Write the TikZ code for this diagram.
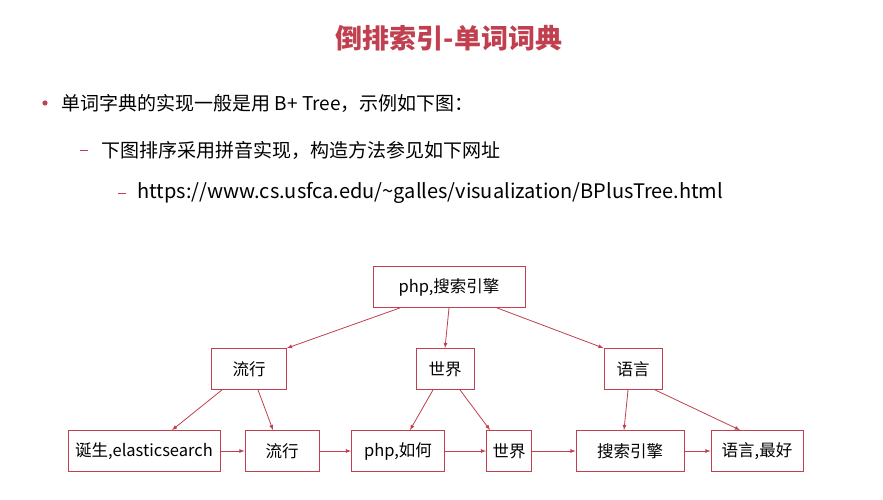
\documentclass[tikz,border=0pt]{standalone}
\usepackage{fontspec}
\setmainfont{Noto Sans CJK SC}
\definecolor{dictred}{HTML}{C0404F}
\begin{document}
\begin{tikzpicture}[x=1pt,y=-1pt,
    word/.style={draw=dictred, fill=white, thick, minimum height=41pt, inner sep=0pt, font=\fontsize{16.5}{19}\selectfont},
    link/.style={->, >=latex, dictred, thick},
    line/.style={anchor=west, font=\fontsize{19}{22}\selectfont}]
    \useasboundingbox[fill=white] (0,0) rectangle (883,500);

    \node[font=\fontsize{27}{31}\selectfont\bfseries, text=dictred] (title) at (449,38) {倒排索引-单词词典};
    \fill[dictred] (45,103) circle (2.6pt);
    \node[line] (item1) at (58,103) {单词字典的实现一般是用 B+ Tree，示例如下图：};
    \draw[dictred, thick] (80,150) -- (88,150);
    \node[line] (item2) at (98,150) {下图排序采用拼音实现，构造方法参见如下网址};
    \draw[dictred, thick] (118,193) -- (126,193);
    \node[line, font=\fontsize{20}{23}\selectfont] (item3) at (134,193) {https://www.cs.usfca.edu/\textasciitilde galles/visualization/BPlusTree.html};

    % root and inner nodes
    \node[word, minimum width=152pt] (root) at (449,287) {php,搜索引擎};
    \node[word, minimum width=75pt] (liuxing) at (249,369) {流行};
    \node[word, minimum width=58pt] (shijie) at (445,369) {世界};
    \node[word, minimum width=58pt] (yuyan) at (633,369) {语言};

    % leaves
    \node[word, minimum width=152pt] (l1) at (144,451) {诞生,elasticsearch};
    \node[word, minimum width=74pt] (l2) at (282,451) {流行};
    \node[word, minimum width=93pt] (l3) at (398,451) {php,如何};
    \node[word, minimum width=45pt] (l4) at (509,451) {世界};
    \node[word, minimum width=108pt] (l5) at (630,451) {搜索引擎};
    \node[word, minimum width=92pt] (l6) at (757,451) {语言,最好};

    \draw[link] ([xshift=-49pt]root.south) -- (liuxing.north east);
    \draw[link] (root.south) -- (shijie.north);
    \draw[link] ([xshift=48pt]root.south) -- (yuyan.north west);
    \draw[link] ([xshift=-27pt]liuxing.south) -- ([xshift=28pt]l1.north);
    \draw[link] ([xshift=9pt]liuxing.south) -- ([xshift=-9pt]l2.north);
    \draw[link] ([xshift=-12pt]shijie.south) -- ([xshift=12pt]l3.north);
    \draw[link] ([xshift=15pt]shijie.south) -- ([xshift=-19pt]l4.north);
    \draw[link] ([xshift=-5pt]yuyan.south) -- ([xshift=-6pt]l5.north);
    \draw[link] ([xshift=22pt]yuyan.south) -- ([xshift=-17pt]l6.north);
    \foreach \a/\b in {l1/l2, l2/l3, l3/l4, l4/l5, l5/l6}
        \draw[link] (\a.east) -- (\b.west);
\end{tikzpicture}
\end{document}
